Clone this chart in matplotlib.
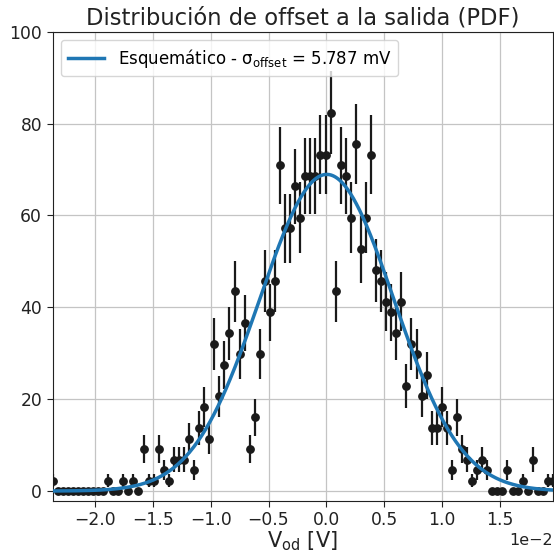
"""
histograma (PDF) del offset a la salida con ajuste gaussiano
"""
import numpy as np
import matplotlib
matplotlib.use('Agg')
import matplotlib.pyplot as plt

# cuentas por bin (100 bins)
counts = [1, 0, 0, 0, 0, 0, 0, 0, 0, 0,
          0, 1, 0, 0, 1, 0, 1, 0, 4, 1,
          1, 4, 2, 1, 3, 3, 3, 5, 2, 6,
          8, 5, 14, 9, 12, 15, 19, 13, 16, 4,
          7, 13, 20, 17, 20, 31, 25, 25, 29, 26,
          30, 30, 30, 32, 32, 36, 19, 31, 30, 26,
          33, 23, 26, 32, 21, 20, 18, 17, 15, 18,
          10, 14, 13, 9, 11, 6, 6, 8, 6, 2,
          7, 4, 3, 1, 2, 3, 2, 0, 0, 0,
          2, 0, 0, 1, 0, 3, 0, 0, 1, 1]
first_center = -0.02366   # V
bin_width = 0.0004367     # V

mu = 0.00003              # V
sigma = 0.005787          # V
label_fit = 'Esquemático - σ$_{\\mathrm{offset}}$ = 5.787 mV'


def main():
    counts_arr = np.array(counts, dtype=float)
    centers = first_center + bin_width*np.arange(len(counts_arr))
    pdf = counts_arr/(counts_arr.sum()*bin_width)
    err = np.sqrt(pdf)

    x = np.linspace(centers[0], centers[-1], 500)
    gauss = np.exp(-0.5*((x - mu)/sigma)**2)/(np.sqrt(2*np.pi)*sigma)

    fig = plt.figure(figsize=(5.54, 5.53), dpi=100)
    ax = fig.add_axes([52.5/554, 52.3/553, 500.5/554, 469/553])

    ax.errorbar(centers, pdf, yerr=err, fmt='o', color='#1a1a1a',
                markersize=5.3, elinewidth=1.6, capsize=0, zorder=3)
    ax.plot(x, gauss, color='#1f77b4', lw=2.5, label=label_fit, zorder=4)

    ax.set_xlim(centers[0], centers[-1])
    ax.set_ylim(-2.1, 100)
    ax.grid(True, color='#c4c4c4', lw=0.9)
    ax.set_axisbelow(True)
    ax.ticklabel_format(axis='x', style='sci', scilimits=(-2, -2))
    ax.tick_params(labelsize=12.3, length=4, color='#222222', labelcolor='#222222')
    ax.xaxis.get_offset_text().set_fontsize(11.5)
    ax.xaxis.get_offset_text().set_color('#222222')
    for s in ax.spines.values():
        s.set_color('#222222')

    ax.set_title('Distribución de offset a la salida (PDF)', fontsize=16.3,
                 color='#222222', pad=5)
    ax.set_xlabel('V$_{\\mathrm{od}}$ [V]', fontsize=15, color='#222222',
                  labelpad=0)
    ax.legend(loc='upper left', fontsize=12, framealpha=0.8,
              borderaxespad=0.5, handlelength=2.2)

    fig.savefig('out.png', dpi=100)
    plt.close('all')


if __name__ == '__main__':
    main()
